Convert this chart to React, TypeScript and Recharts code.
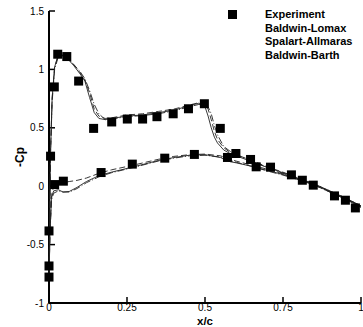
import React from 'react';
import { ScatterChart, Scatter, XAxis, YAxis } from 'recharts';

// experiment
const expX = [0.028, 0.057, 0.095, 0.017, 0.143, 0.201, 0.251, 0.3, 0.346, 0.398, 0.447, 0.498, 0.549,
  0.005, 0.018, 0.046, 0.167, 0.267, 0.371, 0.466, 0.572, 0.599, 0.646, 0.664, 0.71, 0.777, 0.812,
  0.847, 0.915, 0.95, 0.982, 0.0, 0.0, 0.0];
const expCp = [1.13, 1.11, 0.9, 0.85, 0.495, 0.55, 0.575, 0.575, 0.595, 0.62, 0.663, 0.706, 0.495,
  0.257, 0.014, 0.043, 0.117, 0.189, 0.24, 0.272, 0.246, 0.28, 0.229, 0.166, 0.163, 0.097, 0.051,
  0.009, -0.083, -0.12, -0.186, -0.383, -0.683, -0.778];

// upper surface
const upperX = [0, 0.002, 0.005, 0.01, 0.018, 0.03, 0.045, 0.06, 0.08, 0.1, 0.115, 0.13, 0.145, 0.16,
  0.18, 0.2, 0.25, 0.3, 0.35, 0.4, 0.45, 0.48, 0.5, 0.51, 0.52, 0.53, 0.54, 0.56, 0.58, 0.6, 0.65,
  0.7, 0.75, 0.8, 0.85, 0.9, 0.95, 1.0];
const lomaxUpper = [-0.8, -0.3, 0.3, 0.75, 1.02, 1.13, 1.12, 1.09, 1.03, 0.96, 0.9, 0.76, 0.63, 0.58,
  0.57, 0.58, 0.6, 0.61, 0.63, 0.65, 0.69, 0.71, 0.68, 0.6, 0.5, 0.42, 0.37, 0.31, 0.28, 0.26, 0.21,
  0.16, 0.115, 0.065, 0.015, -0.045, -0.105, -0.17];
const saUpper = [-0.8, -0.3, 0.3, 0.75, 1.02, 1.12, 1.12, 1.1, 1.04, 0.97, 0.91, 0.8, 0.66, 0.6,
  0.58, 0.585, 0.61, 0.62, 0.64, 0.66, 0.695, 0.715, 0.705, 0.66, 0.57, 0.47, 0.4, 0.33, 0.29, 0.27,
  0.22, 0.165, 0.12, 0.07, 0.02, -0.04, -0.1, -0.17];
const barthUpper = [-0.8, -0.32, 0.28, 0.72, 1.0, 1.11, 1.11, 1.09, 1.04, 0.98, 0.92, 0.82, 0.7, 0.62,
  0.57, 0.575, 0.595, 0.605, 0.62, 0.645, 0.68, 0.7, 0.7, 0.68, 0.62, 0.52, 0.44, 0.34, 0.3, 0.27,
  0.215, 0.16, 0.11, 0.06, 0.01, -0.05, -0.11, -0.18];

// lower surface
const lowerX = [0, 0.003, 0.008, 0.015, 0.03, 0.045, 0.065, 0.09, 0.12, 0.16, 0.2, 0.27, 0.35, 0.4,
  0.45, 0.5, 0.55, 0.58, 0.6, 0.65, 0.7, 0.75, 0.8, 0.85, 0.9, 0.95, 1.0];
const lomaxLower = [-0.8, -0.4, -0.1, -0.04, -0.03, -0.05, -0.045, -0.01, 0.04, 0.09, 0.12, 0.165,
  0.22, 0.245, 0.265, 0.27, 0.245, 0.21, 0.2, 0.17, 0.135, 0.1, 0.06, 0.015, -0.045, -0.105, -0.17];
const saLower = [-0.8, -0.4, -0.08, 0.0, 0.02, 0.03, 0.04, 0.05, 0.07, 0.11, 0.14, 0.18, 0.23, 0.255,
  0.27, 0.275, 0.26, 0.23, 0.215, 0.18, 0.145, 0.105, 0.065, 0.02, -0.04, -0.1, -0.17];
const barthLower = [-0.8, -0.42, -0.12, -0.06, -0.04, -0.05, -0.05, -0.02, 0.03, 0.08, 0.115, 0.16,
  0.215, 0.24, 0.26, 0.265, 0.25, 0.22, 0.205, 0.17, 0.13, 0.095, 0.055, 0.01, -0.05, -0.11, -0.18];

const xTicks = [0, 0.25, 0.5, 0.75, 1];
const yTicks = [-1, -0.5, 0, 0.5, 1, 1.5];
const xMinor = [0.05, 0.1, 0.15, 0.2, 0.3, 0.35, 0.4, 0.45, 0.55, 0.6, 0.65, 0.7, 0.8, 0.85, 0.9, 0.95];
const yMinor = [-0.9, -0.8, -0.7, -0.6, -0.4, -0.3, -0.2, -0.1, 0.1, 0.2, 0.3, 0.4, 0.6, 0.7, 0.8, 0.9,
  1.1, 1.2, 1.3, 1.4];

const legendNames = ['Experiment', 'Baldwin-Lomax', 'Spalart-Allmaras', 'Baldwin-Barth'];

const pts = (xs: number[], ys: number[]) => xs.map((x, i) => ({ x, y: ys[i] }));

const experiment = pts(expX, expCp);
const curves = [
  { key: 'lu', data: pts(upperX, lomaxUpper), dash: undefined },
  { key: 'll', data: pts(lowerX, lomaxLower), dash: undefined },
  { key: 'su', data: pts(upperX, saUpper), dash: '6 3' },
  { key: 'sl', data: pts(lowerX, saLower), dash: '6 3' },
  { key: 'bu', data: pts(upperX, barthUpper), dash: '7 2 1 2' },
  { key: 'bl', data: pts(lowerX, barthLower), dash: '7 2 1 2' },
];

const font = '"Liberation Sans", Arial, sans-serif';

const Square = (props: any) => (
  <rect x={props.cx - 4.5} y={props.cy - 4.5} width={9} height={9} fill="#000" />
);
const NoDot = () => <g />;

const YTitle = (props: any) => {
  const vb = props.viewBox;
  const cy = vb.y + vb.height / 2;
  return (
    <text x={21} y={cy} transform={`rotate(-90 21 ${cy})`} textAnchor="middle" dominantBaseline="middle"
      fontFamily={font} fontWeight="bold" fontSize={12} fill="#000">-Cp</text>
  );
};

export default function App() {
  return (
    <div style={{ position: 'absolute', left: 0, top: 0, width: 363, height: 327, background: '#fff', fontFamily: font }}>
      <ScatterChart width={363} height={327} margin={{ top: 11, right: 2, left: 0, bottom: 0 }}>
        <XAxis xAxisId="m" type="number" dataKey="x" domain={[0, 1]} ticks={xMinor} height={0}
          tick={false} axisLine={false} tickSize={-3} tickLine={{ stroke: '#000' }} />
        <YAxis yAxisId="m" type="number" dataKey="y" domain={[-1, 1.5]} ticks={yMinor} width={0}
          tick={false} axisLine={false} tickSize={-3} tickLine={{ stroke: '#000' }} />
        <XAxis type="number" dataKey="x" domain={[0, 1]} ticks={xTicks} height={24}
          axisLine={{ stroke: '#000', strokeWidth: 2 }} tickLine={{ stroke: '#000', strokeWidth: 1.5 }}
          tickSize={-6} tickMargin={6.5} interval={0}
          tick={{ fontSize: 10, fill: '#000', fontFamily: font }}
          label={{ value: 'x/c', position: 'insideBottom', offset: 2, fontSize: 11.5, fontWeight: 'bold', fill: '#000', fontFamily: font }} />
        <YAxis type="number" dataKey="y" domain={[-1, 1.5]} ticks={yTicks} width={49}
          axisLine={{ stroke: '#000', strokeWidth: 2 }} tickLine={{ stroke: '#000', strokeWidth: 1.5 }}
          tickSize={-6} tickMargin={11} interval={0}
          tick={{ fontSize: 10, fill: '#000', fontFamily: font }}
          label={<YTitle />} />
        {curves.map((c) => (
          <Scatter key={c.key} data={c.data} shape={NoDot} isAnimationActive={false}
            line={{ stroke: '#222', strokeWidth: 0.9, strokeDasharray: c.dash, fill: 'none' }} lineJointType="linear" />
        ))}
        <Scatter data={experiment} shape={Square} isAnimationActive={false} />
      </ScatterChart>
      <div style={{ position: 'absolute', left: 228, top: 8, fontSize: 11, fontWeight: 'bold', lineHeight: '13.5px', color: '#000' }}>
        {legendNames.map((n, i) => (
          <div key={n} style={{ display: 'flex', alignItems: 'center' }}>
            <div style={{ width: 37 }}>
              {i === 0 ? <div style={{ width: 9, height: 9, background: '#000' }} /> : null}
            </div>
            <span>{n}</span>
          </div>
        ))}
      </div>
    </div>
  );
}
